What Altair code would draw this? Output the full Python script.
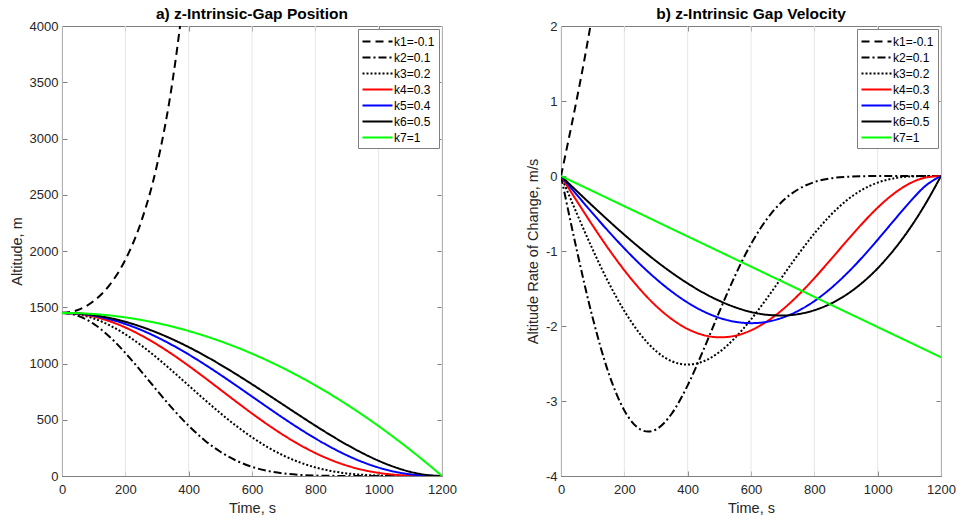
import altair as alt
import pandas as pd

# ---------------- data ----------------
SERIES = ["k1=-0.1", "k2=0.1", "k3=0.2", "k4=0.3", "k5=0.4", "k6=0.5", "k7=1"]
COLORS = ["#000000", "#000000", "#000000", "#ff0000", "#0000ff", "#000000", "#00ff00"]
DASHES = [[8, 5], [8, 3, 2, 3], [2, 2], [1, 0], [1, 0], [1, 0], [1, 0]]

X_TICKS = [0, 200, 400, 600, 800, 1000, 1200]
X_DOMAIN = [0, 1200]
Y_TICKS_POS = [0, 500, 1000, 1500, 2000, 2500, 3000, 3500, 4000]
Y_DOMAIN_POS = [0, 4000]
Y_TICKS_VEL = [-4, -3, -2, -1, 0, 1, 2]
Y_DOMAIN_VEL = [-4, 2]

# common time grid (s)
T = [0, 50, 100, 150, 200, 250, 300, 350, 400, 450, 500, 550, 600,
     650, 700, 750, 800, 850, 900, 950, 1000, 1050, 1100, 1150, 1200]

# ---- a) position (m)
T_POS_K1 = [0, 50, 100, 150, 200, 250, 300, 350, 375, 400]
POS_K1 = [1450, 1475.4, 1554.7, 1697.3, 1921.8, 2259.9, 2764.7, 3527.6, 4052, 4709]
POS_K2 = [1450, 1425.0, 1352.4, 1238.7, 1094.0, 930.4, 760.5, 596.0, 446.5, 318.6, 215.4, 137.2,
          81.7, 45.0, 22.6, 10.2, 4.1, 1.4, 0.4, 0.1, 0.0, 0, 0, 0, 0]
POS_K3 = [1450, 1437.5, 1400.3, 1340.2, 1259.5, 1161.5, 1050.1, 929.6, 804.6, 679.6, 558.8, 446.0,
          344.1, 255.4, 181.2, 121.8, 76.7, 44.5, 23.2, 10.5, 3.9, 1.0, 0.2, 0.0, 0]
POS_K4 = [1450, 1441.6, 1416.7, 1375.9, 1320.0, 1250.6, 1169.3, 1078.1, 979.2, 874.9, 767.9, 660.7,
          555.8, 455.6, 362.4, 278.2, 204.4, 142.2, 92.2, 54.3, 27.9, 11.5, 3.2, 0.3, 0]
POS_K5 = [1450, 1443.7, 1425.0, 1394.0, 1351.4, 1297.8, 1234.0, 1161.0, 1080.2, 992.7, 900.2, 804.2,
          706.4, 608.6, 512.6, 420.3, 333.6, 254.1, 183.6, 123.4, 74.8, 38.6, 14.8, 2.8, 0]
POS_K6 = [1450, 1445.0, 1429.9, 1405.0, 1370.6, 1326.9, 1274.4, 1213.8, 1145.7, 1070.9, 990.2, 904.8,
          815.6, 724.0, 631.1, 538.4, 447.5, 360.0, 277.5, 202.0, 135.4, 79.7, 37.0, 9.7, 0]
POS_K7 = [1450, 1447.5, 1439.9, 1427.3, 1409.7, 1387.1, 1359.4, 1326.7, 1288.9, 1246.1, 1198.3, 1145.4,
          1087.5, 1024.6, 956.6, 883.6, 805.6, 722.5, 634.4, 541.2, 443.1, 339.8, 231.6, 118.3, 0]

# ---- b) velocity (m/s)
T_VEL_K1 = [0, 25, 50, 75, 100]
VEL_K1 = [0, 0.506, 1.026, 1.577, 2.174]
T_VEL_K2 = [0, 50, 100, 150, 200, 250, 275, 300, 350, 400, 450, 500, 550, 600,
            650, 700, 750, 800, 850, 900, 950, 1000, 1050, 1100, 1150, 1200]
VEL_K2 = [0, -0.991, -1.891, -2.622, -3.126, -3.377, -3.408, -3.380, -3.167, -2.791, -2.317, -1.810,
          -1.327, -0.907, -0.575, -0.334, -0.175, -0.081, -0.032, -0.011, -0.003, 0, 0, 0, 0, 0]
VEL_K3 = [0, -0.500, -0.979, -1.418, -1.799, -2.108, -2.334, -2.470, -2.515, -2.471, -2.348, -2.156,
          -1.912, -1.632, -1.335, -1.041, -0.767, -0.528, -0.332, -0.186, -0.088, -0.032, -0.007, -0.001, 0]
VEL_K4 = [0, -0.334, -0.660, -0.971, -1.257, -1.513, -1.732, -1.909, -2.040, -2.121, -2.151, -2.130,
          -2.058, -1.940, -1.780, -1.585, -1.363, -1.123, -0.878, -0.640, -0.422, -0.239, -0.102, -0.022, 0]
VEL_K5 = [0, -0.251, -0.498, -0.738, -0.965, -1.178, -1.371, -1.542, -1.688, -1.805, -1.891, -1.944,
          -1.962, -1.944, -1.888, -1.796, -1.668, -1.505, -1.311, -1.091, -0.850, -0.600, -0.354, -0.135, 0]
VEL_K6 = [0, -0.201, -0.400, -0.595, -0.783, -0.963, -1.133, -1.290, -1.432, -1.558, -1.664, -1.750,
          -1.813, -1.850, -1.860, -1.841, -1.790, -1.706, -1.586, -1.428, -1.231, -0.991, -0.708, -0.378, 0]
VEL_K7 = [0, -0.101, -0.201, -0.302, -0.403, -0.503, -0.604, -0.705, -0.806, -0.906, -1.007, -1.108,
          -1.208, -1.309, -1.410, -1.510, -1.611, -1.712, -1.813, -1.913, -2.014, -2.115, -2.215, -2.316, -2.417]

FONT = "Liberation Sans"
FRAME = "#7f7f7f"
TEXT = "#262626"


def long_frame(parts):
    rows = []
    for name, ts, vs in parts:
        for t, v in zip(ts, vs):
            rows.append({"t": t, "v": v, "series": name})
    return pd.DataFrame(rows)


pos_df = long_frame([
    (SERIES[0], T_POS_K1, POS_K1), (SERIES[1], T, POS_K2), (SERIES[2], T, POS_K3),
    (SERIES[3], T, POS_K4), (SERIES[4], T, POS_K5), (SERIES[5], T, POS_K6), (SERIES[6], T, POS_K7),
])
vel_df = long_frame([
    (SERIES[0], T_VEL_K1, VEL_K1), (SERIES[1], T_VEL_K2, VEL_K2), (SERIES[2], T, VEL_K3),
    (SERIES[3], T, VEL_K4), (SERIES[4], T, VEL_K5), (SERIES[5], T, VEL_K6), (SERIES[6], T, VEL_K7),
])

LABEL_EXPR = "datum.value < 0 ? '-' + abs(datum.value) : '' + datum.value"


def panel(df, title, ydomain, yticks, ytitle):
    xs = alt.Scale(domain=X_DOMAIN, nice=False, zero=False)
    ys = alt.Scale(domain=ydomain, nice=False, zero=False)
    legend = alt.Legend(
        title=None, orient="top-right", offset=3, fillColor="white", strokeColor=FRAME, padding=4,
        labelFont=FONT, labelFontSize=12, labelColor="#000000",
        symbolType="M-2,0H2", symbolSize=225, symbolStrokeWidth=2, rowPadding=1,
        symbolOffset=7, labelOffset=8,
    )
    # faint vertical grid at the x ticks
    grid = alt.Chart(pd.DataFrame({"t": X_TICKS})).mark_rule(color="#e6e6e6", strokeWidth=1).encode(
        x=alt.X("t:Q", scale=xs, axis=None),
    )
    lines = alt.Chart(df).mark_line(clip=True, strokeWidth=2, interpolate="monotone").encode(
        x=alt.X("t:Q", scale=xs, axis=alt.Axis(
            orient="bottom", title="Time, s", values=X_TICKS, offset=-5, tickSize=5, format="d",
            labelFlush=False, domain=False, grid=False, labelPadding=7, titlePadding=5)),
        y=alt.Y("v:Q", scale=ys, axis=alt.Axis(
            orient="left", title=ytitle, values=yticks, offset=-5, tickSize=5, labelFlush=False,
            domain=False, grid=False, labelPadding=4, titlePadding=5, labelExpr=LABEL_EXPR)),
        color=alt.Color("series:N", scale=alt.Scale(domain=SERIES, range=COLORS), legend=legend),
        strokeDash=alt.StrokeDash("series:N", scale=alt.Scale(domain=SERIES, range=DASHES), legend=legend),
    )
    # invisible anchor layer that only carries the inward ticks of the top and right frame edges
    corners = pd.DataFrame({"t": X_DOMAIN, "v": ydomain})
    ticks = alt.Chart(corners).mark_point(opacity=0, size=0, clip=True).encode(
        x=alt.X("t:Q", scale=xs, axis=alt.Axis(
            orient="top", title=None, labels=False, values=X_TICKS, offset=-5, tickSize=5,
            domain=False, grid=False, minExtent=0, maxExtent=0)),
        y=alt.Y("v:Q", scale=ys, axis=alt.Axis(
            orient="right", title=None, labels=False, values=yticks, offset=-5, tickSize=5,
            domain=False, grid=False, minExtent=0, maxExtent=0)),
    )
    return alt.layer(grid, lines, ticks).resolve_axis(x="independent", y="independent").properties(
        width=380, height=450,
        title=alt.TitleParams(title, fontSize=15.5, fontWeight="bold", font=FONT, color="#000000",
                              offset=-14, anchor="middle", frame="group", baseline="alphabetic"),
    )


left = panel(pos_df, "a) z-Intrinsic-Gap Position", Y_DOMAIN_POS, Y_TICKS_POS, "Altitude, m")
right = panel(vel_df, "b) z-Intrinsic Gap Velocity", Y_DOMAIN_VEL, Y_TICKS_VEL, "Altitude Rate of Change, m/s")

chart = alt.hconcat(left, right, spacing=67).resolve_scale(
    color="independent", strokeDash="independent"
).resolve_legend(
    color="independent", strokeDash="independent"
).properties(
    padding={"left": 8, "top": 6, "right": 0, "bottom": 2},
    background="white",
).configure_view(
    stroke=FRAME, strokeWidth=1
).configure_axis(
    labelFont=FONT, labelFontSize=13, labelColor=TEXT,
    titleFont=FONT, titleFontSize=14.5, titleFontWeight="normal", titleColor=TEXT,
    tickColor=FRAME, tickWidth=1,
)

chart.save("out.html", embed_options={"renderer": "svg", "actions": False})
